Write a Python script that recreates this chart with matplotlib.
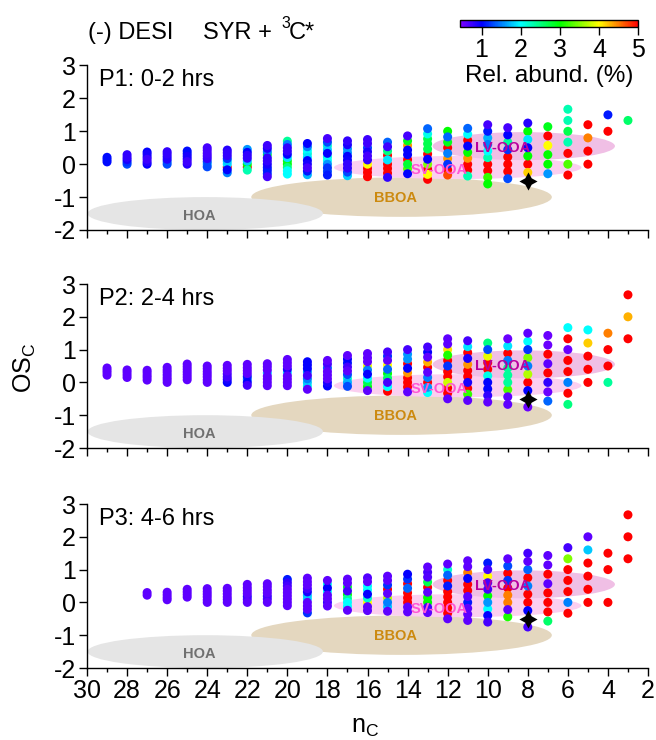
import numpy as np
import matplotlib
matplotlib.use("Agg")
import matplotlib.pyplot as plt
from matplotlib.colors import LinearSegmentedColormap, Normalize
from matplotlib.cm import ScalarMappable
from matplotlib.patches import Ellipse

plt.rcParams['font.family'] = ['Liberation Sans', 'DejaVu Sans']
plt.rcParams['mathtext.default'] = 'regular'
plt.rcParams['axes.unicode_minus'] = False

# one row per carbon number, top of column to bottom
p1_nc = [29, 28, 27, 26, 25, 24, 23, 22, 21, 20, 19, 18, 17, 16, 15, 14, 13, 12, 11, 10, 9, 8, 7, 6, 5, 4, 3]
p1_osc = [
    [.21, .14, .07],
    [.29, .21, .14, .07, 0],
    [.37, .3, .22, .15, .07, 0],
    [.38, .31, .23, .15, .08, 0],
    [.4, .32, .24, .16, .08, 0],
    [.5, .42, .33, .25, .17, .08, 0, -.08],
    [.43, .35, .26, .17, .09, 0, -.09, -.17, -.26],
    [.45, .36, .27, .18, .09, 0, -.09, -.18],
    [.57, .48, .38, .29, .19, .1, 0, -.1, -.19, -.29, -.38],
    [.7, .6, .5, .4, .3, .2, .1, 0, -.1, -.2, -.3],
    [.63, .53, .42, .32, .21, .11, 0, -.11, -.21, -.32],
    [.78, .67, .56, .44, .33, .22, .11, 0, -.11, -.22, -.33],
    [.71, .59, .47, .35, .24, .12, 0, -.12, -.24, -.35],
    [.75, .63, .5, .38, .25, .13, 0, -.13, -.25, -.38],
    [.67, .53, .4, .27, .13, 0, -.13, -.27, -.4],
    [.86, .71, .57, .43, .29, .14, 0, -.14, -.29],
    [1.08, .92, .77, .62, .46, .31, .15, 0, -.15, -.31, -.46],
    [1.0, .83, .67, .5, .33, .17, 0, -.17, -.33],
    [1.09, .91, .73, .55, .36, .18, 0, -.18, -.36],
    [1.2, 1.0, .8, .6, .4, .2, 0, -.2, -.4, -.6],
    [1.11, .89, .67, .44, .22, 0, -.22, -.44],
    [1.25, 1.0, .75, .5, .25, 0, -.25],
    [1.14, .86, .57, .29, 0, -.29],
    [1.67, 1.33, 1.0, .67, .33, 0, -.33],
    [1.2, .8, .4, 0],
    [1.5, 1.0],
    [1.33],
]
p1_abund = [
    [1.05, 1.05, 1.05],
    [.8, .8, .9, 1.2, 1.3],
    [1.0, .9, .9, .75, .85, 1.0],
    [.8, .8, .9, .85, 1.4, 1.3],
    [1.05, 1.05, .9, .9, .75, .85],
    [.7, .7, .7, .75, .8, 1.3, 1.7, 1.3],
    [.85, .8, .8, 1.2, 1.8, 1.9, 5, 1.0, 1.5],
    [1.6, 1.0, .8, .8, 1.8, 3.0, 5, 2.3],
    [.75, .9, 1.5, 2.8, .8, .8, .9, 1.1, 1.1, 1.2, .7],
    [2.4, 1.5, .8, .8, 1.0, 1.9, 2.9, 3.0, 2.5, 2.0, 2.0],
    [1.0, 1.5, 2.0, 2.2, 1.9, 1.0, .9, .7, 1.1, 1.7],
    [.7, 1.3, 2.2, 1.8, 1.0, 2.1, 2.0, 1.6, 1.2, 1.3, 1.1],
    [.8, .9, 1.6, 1.6, 1.0, .95, .8, .8, 1.3, 1.8],
    [.75, .75, 1.3, .9, .7, .8, 4.0, 5, 5, 5],
    [1.4, .75, 2.5, 5, 1.9, 5, 5, 5, .8],
    [.7, 2.9, 4.4, 1.0, 1.0, 5, 2.8, 3.3, 1.0],
    [1.4, 2.1, 2.7, 2.7, 2.7, 5, 1.0, 3.5, 5, 4.0, 5],
    [3.0, 1.4, 2.9, 5, 1.5, 4.4, 1.2, 5, 4.7],
    [1.4, 2.0, 5, 1.0, 3.0, 4.4, 5, 5, 2.3],
    [.7, 1.1, 1.7, 1.5, 2.0, 2.3, 5, 5, 3.2, 3.0],
    [.7, 1.0, 2.4, 1.2, 5, 5, 5, 1.3],
    [.85, 3.0, 1.9, 1.0, 3.0, 5, 4.2],
    [2.9, 5, 4.0, 3.0, 3.0, 1.6],
    [2.3, 2.3, 2.7, 2.3, 5, 3.3, 5],
    [5, 4.5, 5, 5],
    [1.1, 5],
    [2.6],
]

p2_nc = [29, 28, 27, 26, 25, 24, 23, 22, 21, 20, 19, 18, 17, 16, 15, 14, 13, 12, 11, 10, 9, 8, 7, 6, 5, 4, 3]
p2_osc = [
    [.44, .37, .3, .22],
    [.38, .31, .23, .15],
    [.37, .3, .22, .15, .07],
    [.46, .38, .31, .23, .15, .08, 0],
    [.56, .48, .4, .32, .24, .16, .08],
    [.5, .42, .33, .25, .17, .08, 0],
    [.52, .43, .35, .26, .17, .09, 0],
    [.55, .45, .36, .27, .18, .09, 0, -.09],
    [.57, .48, .38, .29, .19, .1, 0, -.1],
    [.7, .6, .5, .4, .3, .2, .1, 0, -.1],
    [.63, .53, .42, .32, .21, .11, 0, -.11, -.21],
    [.67, .56, .44, .33, .22, .11, 0, -.11],
    [.82, .71, .59, .47, .35, .24, .12, 0, -.12],
    [.88, .75, .63, .5, .38, .25, .13, 0, -.13, -.25],
    [.93, .8, .67, .53, .4, .27, .13, 0, -.13, -.27],
    [1.0, .86, .71, .57, .43, .29, .14, 0, -.14, -.29],
    [1.08, .92, .77, .62, .46, .31, .15, 0, -.15, -.31],
    [1.33, 1.17, 1.0, .83, .67, .5, .33, .17, 0, -.17, -.33, -.5],
    [1.27, 1.09, .91, .73, .55, .36, .18, 0, -.18, -.36, -.55],
    [1.2, 1.0, .8, .6, .4, .2, 0, -.2, -.4, -.6],
    [1.33, 1.11, .89, .67, .44, .22, 0, -.22, -.44, -.67],
    [1.5, 1.25, 1.0, .75, .5, .25, 0, -.25, -.75],
    [1.43, 1.14, .86, .57, .29, 0, -.29, -.57],
    [1.67, 1.33, 1.0, .67, .33, 0, -.33, -.67],
    [1.6, 1.2, .8, .4, 0],
    [1.5, 1.0, .5, 0],
    [2.67, 2.0, 1.33],
]
p2_abund = [
    [.6, .6, .6, .6],
    [.6, .6, .6, .6],
    [.6, .6, .6, .6, .6],
    [.6, .6, .6, .7, .6, .6, .6],
    [.6, .6, .6, .6, .6, .6, .6],
    [.6, .6, .6, .6, .6, .6, .6],
    [.6, .6, .6, .7, .7, .9, 1.0],
    [.6, .6, .6, .6, 1.1, 1.5, 1.0, .7],
    [.6, .6, .6, 1.8, .6, .6, .6, .6],
    [.6, .6, .6, .9, 1.9, .6, .6, .6, .6],
    [1.0, 1.0, 1.0, 1.6, .7, 1.5, 1.8, 2.1, .6],
    [.6, .7, 1.4, .6, .6, .6, .9, 1.0],
    [.6, 1.0, 1.1, .7, .6, 1.3, 2.2, 1.7, 1.3],
    [.6, .6, .6, 3.9, 1.5, 1.0, 2.0, 2.7, 3.0, .6],
    [.7, 1.2, .6, 4.0, 1.4, 3.0, 2.6, .7, 2.0, 5],
    [.7, 1.6, 1.6, 5, 1.0, 4.4, 5, 5, 5, .6],
    [.7, 1.0, .6, 4.3, 5, .6, 1.5, 5, 1.6, 2.0],
    [.6, .6, 4.1, 3.1, 5, 1.2, 5, 5, 3.8, 5, 5, .6],
    [.7, 1.9, 5, .9, 4.4, 5, 5, .9, 5, 3.2, .6],
    [2.5, 1.3, 3.9, 5, 5, 2.1, 1.0, 1.0, .8, .6],
    [.55, 1.9, 5, 1.5, 2.4, 2.4, 2.4, 3.3, .6, .6],
    [.6, 2.0, 1.2, 3.5, 1.5, 3.7, 5, 1.0, .55],
    [.55, .55, 5, .6, 5, .8, .55, 1.4],
    [2.0, 5, .55, 5, 5, 1.5, 5, 2.5],
    [2.0, 4.2, 5, 5, 5],
    [4.5, 5, 5, 2.4],
    [5, 4.3, 5],
]

p3_nc = [27, 26, 25, 24, 23, 22, 21, 20, 19, 18, 17, 16, 15, 14, 13, 12, 11, 10, 9, 8, 7, 6, 5, 4, 3]
p3_osc = [
    [.3, .22],
    [.31, .23, .15, .08],
    [.4, .32, .24, .16],
    [.42, .33, .25, .17, .08, 0],
    [.43, .35, .26, .17, .09, 0],
    [.55, .45, .36, .27, .18, .09, 0],
    [.57, .48, .38, .29, .19, .1, 0],
    [.7, .6, .5, .4, .3, .2, .1, 0, -.1],
    [.74, .63, .53, .42, .32, .21, .11, 0, -.11, -.21, -.32],
    [.67, .56, .44, .33, .22, .11, 0, -.11],
    [.71, .59, .47, .35, .24, .12, 0, -.12, -.24],
    [.75, .63, .5, .38, .25, .13, 0, -.13, -.25],
    [.8, .67, .53, .4, .27, .13, 0, -.13, -.27],
    [.86, .71, .57, .43, .29, .14, 0, -.14, -.29],
    [1.08, .92, .77, .62, .46, .31, .15, 0, -.15, -.31],
    [1.17, 1.0, .83, .67, .5, .33, .17, 0, -.17, -.33, -.5],
    [1.27, 1.09, .91, .73, .55, .36, .18, 0, -.18, -.36, -.55],
    [1.2, 1.0, .8, .6, .4, .2, 0, -.2, -.4, -.6],
    [1.33, 1.11, .89, .67, .44, .22, 0, -.22, -.44],
    [1.5, 1.25, 1.0, .75, .5, .25, 0, -.25, -.75],
    [1.43, 1.14, .86, .57, .29, 0, -.29, -.57],
    [1.67, 1.33, 1.0, .67, .33, 0, -.33],
    [2.0, 1.6, 1.2, .8, .4, 0],
    [1.5, 1.0, 0],
    [2.67, 2.0, 1.33],
]
p3_abund = [
    [.6, .6],
    [.6, .6, .6, .6],
    [.6, .6, .6, .6],
    [.6, .6, .6, .6, .6, .6],
    [.6, .6, .6, .6, .7, .6],
    [.6, .6, .6, .6, .9, .7, .6],
    [.6, .6, .6, .6, .8, .7, .6],
    [1.1, .8, .7, .6, .6, .6, .6, .6, .6],
    [.6, .6, .6, .7, .9, 1.8, 1.9, .6, .6, .6, 1.2],
    [.6, 2.1, 1.0, 2.0, .6, .6, .8, .6],
    [.6, .6, 2.8, .7, 3.0, 2.4, 2.0, 2.0, .6],
    [.65, .6, 2.0, 2.0, 1.0, 2.2, 4.0, .6, .6],
    [.6, .6, 1.2, 5, .6, 3.7, 1.5, 1.8, .6],
    [1.0, 1.2, 5, 1.4, 5, 5, 5, .6, .6],
    [.6, .7, .65, 2.7, 5, .6, 3.0, 3.0, .7, .6],
    [.6, 2.2, 1.4, 5, 1.1, 5, 5, 5, 5, 5, .6],
    [.6, .6, 4.5, 1.0, 5, 5, .6, 1.1, .6, .6, .6],
    [1.1, .7, 4.0, .7, .7, 3.0, 1.6, 2.0, 1.0, .7],
    [.6, 1.3, 5, 1.2, 5, 4.5, 4.5, .6, 3.1],
    [.7, .6, 1.4, 5, 1.5, 5, 5, 1.0, .7],
    [.6, .6, 5, .6, 5, 5, 5, 2.6],
    [.7, 3.5, 5, 5, 5, 1.5, 5],
    [.6, 1.8, 5, 5, 5, 5],
    [5, 5, 5],
    [5, 5, 5],
]

panel_labels = ['P1: 0-2 hrs', 'P2: 2-4 hrs', 'P3: 4-6 hrs']
star_nc = 8
star_osc = -0.5

# factor regions: name, nC centre, OSc centre, nC width, OSc height
region_names = ['BBOA', 'SV-OOA', 'LV-OOA', 'HOA']
region_nc = [14.3, 11.5, 8.2, 24.1]
region_osc = [-1.0, -0.1, 0.55, -1.5]
region_w = [15.0, 12.35, 9.1, 11.75]
region_h = [1.2, 0.7, 0.85, 1.0]
region_fill = ['#e4d7bf', '#fbcff0', '#f0bfe5', '#e5e5e5']
label_nc = [14.6, 12.4, 9.25, 24.4]
label_osc = [-1.03, -0.19, 0.5, -1.58]
label_color = ['#cc8a10', '#ff55d5', '#b8009e', '#707070']

cb_vals = [0.45, 1, 2, 3, 4, 5]
cb_cols = ['#7f00ff', '#0000ff', '#00ffff', '#00ff00', '#ffff00', '#ff0000']
norm = Normalize(cb_vals[0], cb_vals[-1])
cmap = LinearSegmentedColormap.from_list(
    'rel', [(norm(v), c) for v, c in zip(cb_vals, cb_cols)])

W, H = 656, 740
fig = plt.figure(figsize=(W / 100, H / 100), dpi=100)

tops = [65.5, 284, 504]
bottoms = [230, 448, 668]
all_nc = [p1_nc, p2_nc, p3_nc]
all_osc = [p1_osc, p2_osc, p3_osc]
all_ab = [p1_abund, p2_abund, p3_abund]

for i in range(3):
    ax = fig.add_axes([87 / W, 1 - bottoms[i] / H, 561 / W, (bottoms[i] - tops[i]) / H])
    for j in range(4):
        ax.add_patch(Ellipse((region_nc[j], region_osc[j]), region_w[j], region_h[j],
                             fc=region_fill[j], ec='none', zorder=1))

    x = np.concatenate([[n] * len(o) for n, o in zip(all_nc[i], all_osc[i])])
    y = np.concatenate(all_osc[i])
    c = np.concatenate(all_ab[i])
    # low abundance goes on top
    order = np.argsort(-c, kind='stable')
    ax.scatter(x[order], y[order], c=c[order], cmap=cmap, norm=norm, s=42,
               linewidths=0, zorder=3, clip_on=False)
    ax.scatter([star_nc], [star_osc], marker=(4, 1, 0), s=170, c='k', linewidths=0, zorder=4)

    for j in range(4):
        ax.text(label_nc[j], label_osc[j], region_names[j], color=label_color[j], fontsize=10.5,
                fontweight='bold', ha='center', va='center', zorder=5)

    ax.set_xlim(30, 2)
    ax.set_ylim(-2, 3)
    ax.set_xticks(np.arange(30, 1, -2))
    ax.set_xticks(np.arange(29, 2, -2), minor=True)
    ax.set_yticks([-2, -1, 0, 1, 2, 3])
    ax.tick_params(axis='both', which='major', length=6, width=1, labelsize=18, pad=2)
    ax.tick_params(axis='x', which='minor', length=3, width=1)
    if i < 2:
        ax.tick_params(axis='x', labelbottom=False)
    ax.spines['top'].set_visible(False)
    ax.spines['right'].set_visible(False)
    ax.spines['left'].set_linewidth(1)
    ax.spines['bottom'].set_linewidth(1)
    ax.patch.set_alpha(0)
    fig.text(99 / W, 1 - (tops[i] + 15) / H, panel_labels[i], fontsize=17, va='center')

fig.text(88 / W, 1 - 33 / H, '(-) DESI', fontsize=17, va='center')
fig.text(203 / W, 1 - 33 / H, 'SYR +', fontsize=17, va='center')
fig.text(281 / W, 1 - 23 / H, '3', fontsize=11.5, va='center')
fig.text(289 / W, 1 - 33 / H, 'C*', fontsize=17, va='center')
fig.text(25 / W, 1 - 368 / H, 'OS$_C$', fontsize=18, rotation=90, ha='center', va='center')
fig.text(365 / W, 1 - 727 / H, 'n$_C$', fontsize=18, ha='center', va='center')

cax = fig.add_axes([460 / W, 1 - 27 / H, 178 / W, 7 / H])
cb = fig.colorbar(ScalarMappable(norm=norm, cmap=cmap), cax=cax, orientation='horizontal')
cb.set_ticks([1, 2, 3, 4, 5])
cb.ax.tick_params(length=6, width=1, labelsize=18, pad=2)
cb.outline.set_linewidth(1)
fig.text(549 / W, 1 - 76 / H, 'Rel. abund. (%)', fontsize=17.5, ha='center', va='center')

fig.savefig('out.png', dpi=100)
